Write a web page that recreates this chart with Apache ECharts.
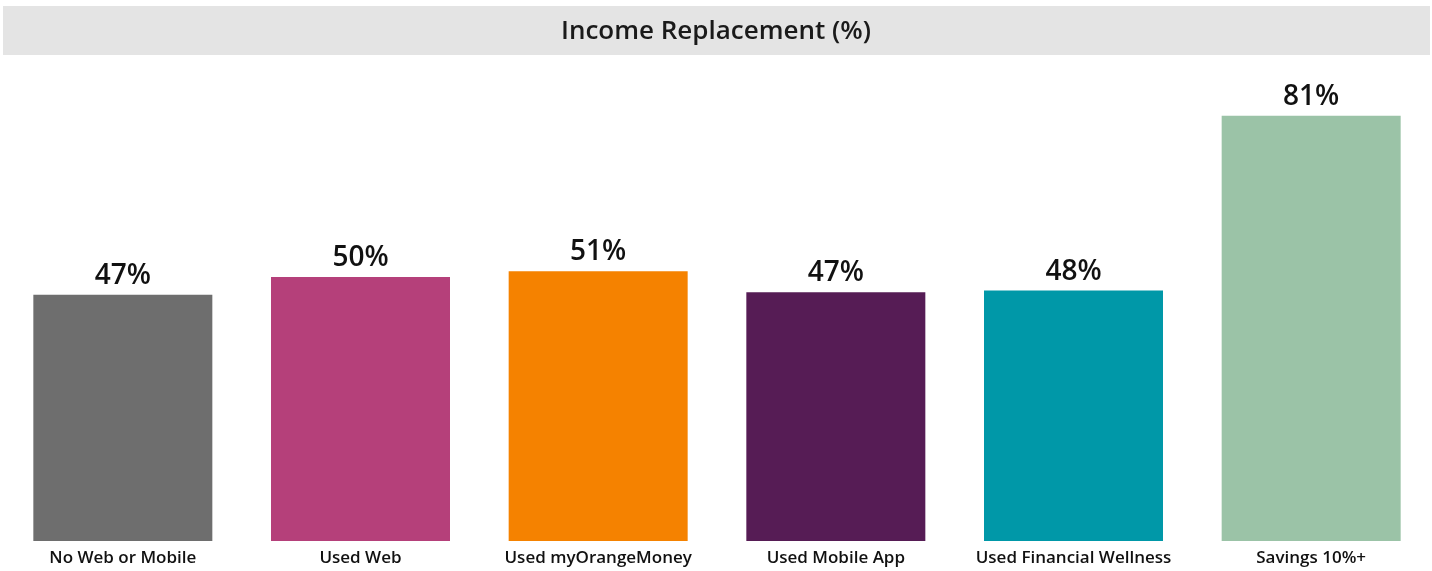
<!DOCTYPE html>
<html>
<head>
<meta charset="utf-8">
<script src="https://cdn.jsdelivr.net/npm/echarts@6/dist/echarts.min.js"></script>
<style>
  html, body { margin: 0; padding: 0; background: #fff; }
  #main { width: 1432px; height: 571px; }
</style>
</head>
<body>
<div id="main"></div>
<script>
// data
const categories = ['No Web or Mobile', 'Used Web', 'Used myOrangeMoney', 'Used Mobile App', 'Used Financial Wellness', 'Savings 10%+'];
const values = [46.9, 50.3, 51.4, 47.4, 47.7, 81.0];
const colors = ['#6e6e6e', '#b5407a', '#f58200', '#561c55', '#0098a8', '#9bc3a7'];
const titleText = 'Income Replacement (%)';

let myChart = echarts.init(document.getElementById('main'));
let option = {
    animation: false,
    textStyle: { fontFamily: 'Open Sans' },
    graphic: [
        {
            type: 'rect',
            shape: { x: 3, y: 6, width: 1427, height: 49 },
            style: { fill: '#e4e4e4' },
            z: 0
        },
        {
            type: 'text',
            x: 716,
            y: 32,
            style: {
                text: titleText,
                fill: '#1a1a1a',
                font: '600 26px "Open Sans"',
                textAlign: 'center',
                textVerticalAlign: 'middle'
            },
            z: 1
        }
    ],
    grid: { left: 4, right: 2, top: 16, bottom: 30 },
    xAxis: {
        type: 'category',
        data: categories,
        axisLine: { show: false },
        axisTick: { show: false },
        axisLabel: {
            interval: 0,
            margin: 9,
            color: '#111',
            fontSize: 17,
            fontWeight: 600
        }
    },
    yAxis: {
        type: 'value',
        min: 0,
        max: 100,
        show: false
    },
    series: [{
        type: 'bar',
        barWidth: 179,
        data: values.map((v, i) => ({ value: v, itemStyle: { color: colors[i] } })),
        label: {
            show: true,
            position: 'top',
            distance: 5,
            color: '#111',
            fontSize: 28,
            fontWeight: 600,
            formatter: p => Math.round(p.value) + '%'
        }
    }]
};
myChart.setOption(option);
</script>
</body>
</html>
